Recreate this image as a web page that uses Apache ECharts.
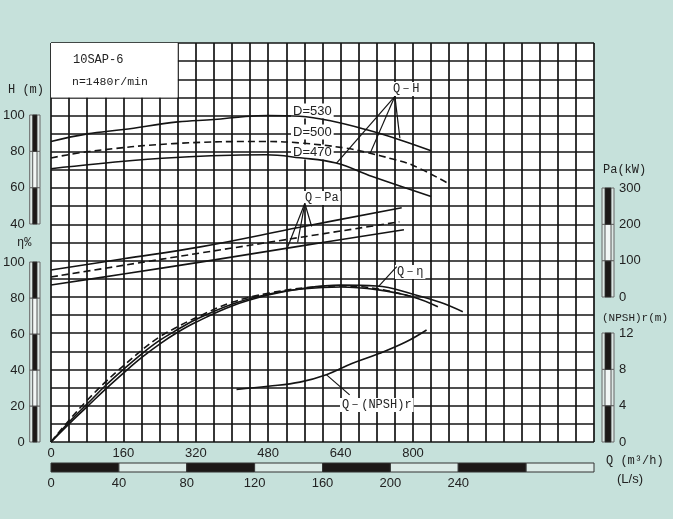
<!DOCTYPE html>
<html>
<head>
<meta charset="utf-8">
<script src="https://cdn.jsdelivr.net/npm/echarts@6/dist/echarts.min.js"></script>
<style>
  html, body { margin: 0; padding: 0; background: #c6e1db; }
  #chart { width: 673px; height: 519px; }
</style>
</head>
<body>
<div id="chart"></div>
<script>
  // Q-H, m3/h against m
  const hQ530 = [0, 80, 160, 280, 360, 430, 480, 550, 620, 700, 770, 840]
  const h530 = [85.7, 89.9, 92.3, 96.5, 97.8, 99.5, 100, 99.6, 97, 92, 86.7, 80.6]
  const hQ500 = [0, 85, 270, 475, 550, 650, 700, 755, 800, 875]
  const h500 = [76.6, 80.2, 84.5, 85.7, 84.9, 82.1, 79.5, 76, 72.5, 63]
  const hQ470 = [0, 180, 305, 475, 550, 630, 710, 840]
  const h470 = [70.7, 75.2, 77.3, 78.4, 76.7, 73.8, 66.4, 55.4]

  // Q-Pa, kW
  const pQ530 = [0, 160, 330, 550, 775]
  const pa530 = [74, 105, 138, 192, 246]
  const pQ500 = [0, 160, 330, 550, 770]
  const pa500 = [55, 87, 121, 164, 207]
  const pQ470 = [0, 160, 330, 550, 780]
  const pa470 = [33, 63, 96, 140, 185]

  // Q-eta, %
  const eQ530 = [0, 40, 80, 120, 160, 200, 240, 280, 320, 400, 480, 560, 640, 720, 800, 860, 910]
  const eta530 = [0, 10, 19.5, 29, 38, 46.5, 54, 60.5, 66, 75, 81, 84.8, 86.5, 86, 81.5, 77, 71.8]
  const eQ500 = [0, 40, 80, 120, 160, 200, 240, 280, 320, 400, 480, 560, 640, 720, 800]
  const eta500 = [0, 12, 23, 33, 42, 50.5, 58, 63.5, 68.5, 77, 82, 85, 86, 84.5, 80]
  const eQ470 = [0, 40, 80, 120, 160, 200, 240, 280, 320, 400, 480, 560, 640, 720, 800, 855]
  const eta470 = [0, 11, 21, 31, 40, 48.5, 56, 62, 67.5, 76, 81.5, 84.5, 85.5, 84, 80, 74.6]

  // Q-(NPSH)r, m
  const nQ = [410, 480, 550, 610, 665, 725, 785, 830]
  const npsh = [5.8, 6.15, 6.6, 7.45, 8.65, 9.75, 11.05, 12.35]

  // leader lines [Q, value]
  const hLeaders = [[[760, 110.6], [631, 73.8]], [[760, 110.6], [705, 79]], [[760, 110.6], [771, 87.5]]]
  const paLeaders = [[[561, 258], [520, 128]], [[561, 258], [545, 150]], [[561, 258], [576, 194]]]
  const etaLeader = [[764, 96.7], [723, 85.5]]
  const npshLeader = [[609, 7.4], [660, 5.2]]

  // scale bar ticks
  const hTicks = [40, 60, 80, 100]
  const etaTicks = [0, 20, 40, 60, 80, 100]
  const paTicks = [0, 100, 200, 300]
  const npshTicks = [0, 4, 8, 12]
  const lsTicks = [0, 40, 80, 120, 160, 200, 240, 280, 320]

  const pts = (qs, vs) => qs.map((q, i) => [q, vs[i]])
  const segs = ticks => ticks.slice(0, -1).map((t, i) => [t, ticks[i + 1], i % 2 === 0 ? 1 : 0])
  const ink = '#141414'
  const txt = '#222'

  function vBar (params, api) {
    const lo = api.coord([0, api.value(0)])
    const hi = api.coord([1, api.value(1)])
    const x = lo[0], y = hi[1], w = hi[0] - lo[0], h = lo[1] - hi[1]
    return {
      type: 'group',
      children: [
        {type: 'rect', shape: {x: x, y: y, width: w, height: h}, style: {fill: '#dde8e5', stroke: '#666', lineWidth: 1}},
        {type: 'rect', shape: {x: x + 3, y: y, width: w - 6, height: h},
          style: {fill: api.value(2) === 1 ? '#1c1817' : '#f2f6f5', stroke: '#333', lineWidth: 0.8}}
      ]
    }
  }

  function hBar (params, api) {
    const lo = api.coord([api.value(0), 0])
    const hi = api.coord([api.value(1), 1])
    return {
      type: 'rect',
      shape: {x: lo[0], y: hi[1], width: hi[0] - lo[0], height: lo[1] - hi[1]},
      style: {fill: api.value(2) === 1 ? '#1c1817' : '#dcebe7', stroke: '#333', lineWidth: 1}
    }
  }

  function curve (data, yIdx, dashed) {
    return {
      type: 'line', xAxisIndex: 0, yAxisIndex: yIdx, data: data, smooth: 0.4,
      symbol: 'none', silent: true, z: 3,
      lineStyle: {color: ink, width: 1.6, type: dashed ? [7, 4] : 'solid'}
    }
  }

  function leader (data, yIdx) {
    return {
      type: 'line', xAxisIndex: 0, yAxisIndex: yIdx, data: data, symbol: 'none',
      silent: true, z: 3, lineStyle: {color: ink, width: 1.2}
    }
  }

  const hiddenY = (grid, min, max) => ({type: 'value', gridIndex: grid, min: min, max: max, show: false})
  const barX = grid => ({type: 'value', gridIndex: grid, min: 0, max: 1, show: false})
  const scaleY = (grid, ticks, pos) => ({
    type: 'value', gridIndex: grid, position: pos, min: ticks[0], max: ticks[ticks.length - 1],
    interval: ticks[1] - ticks[0],
    axisLine: {show: false}, axisTick: {show: false}, splitLine: {show: false},
    axisLabel: {color: txt, fontSize: 13, margin: 5, fontFamily: 'Liberation Sans'}
  })

  const annFont = '12px "Liberation Mono", monospace'
  const sansFont = '13px "Liberation Sans", sans-serif'
  // bg labels sit under the curves (z 1) but over the grid lines
  const label = (x, y, text, bg, font) => ({
    type: 'text', x: x, y: y, z: bg ? 1 : 10,
    style: {text: text, font: font || annFont, fill: txt, verticalAlign: 'middle',
      backgroundColor: bg ? '#fff' : null, padding: bg ? [1, 2] : 0}
  })

  const chart = echarts.init(document.getElementById('chart'))
  chart.setOption({
    backgroundColor: '#c6e1db',
    animation: false,
    textStyle: {fontFamily: 'Liberation Sans'},
    grid: [
      {left: 51, top: 43, width: 543, height: 399, show: true, backgroundColor: '#fff', borderWidth: 0},
      {left: 28, top: 115, width: 12, height: 109},
      {left: 28, top: 262, width: 12, height: 180},
      {left: 602, top: 188, width: 12, height: 109},
      {left: 602, top: 333, width: 12, height: 109},
      {left: 51, top: 463, width: 543, height: 9}
    ],
    xAxis: [
      {
        type: 'value', gridIndex: 0, min: 0, max: 1200, interval: 40,
        axisLine: {show: false}, axisTick: {show: false},
        splitLine: {show: true, lineStyle: {color: ink, width: 1.7}},
        axisLabel: {color: txt, fontSize: 13, margin: 5,
          formatter: v => (v % 160 === 0 && v <= 800) ? String(v) : ''}
      },
      barX(1), barX(2), barX(3), barX(4),
      {
        type: 'value', gridIndex: 5, min: 0, max: 320, interval: 40,
        axisLine: {show: false}, axisTick: {show: false}, splitLine: {show: false},
        axisLabel: {color: txt, fontSize: 13, margin: 5, formatter: v => v <= 240 ? String(v) : ''}
      }
    ],
    yAxis: [
      {
        type: 'value', gridIndex: 0, min: 0, max: 220, interval: 10,
        axisLine: {show: false}, axisTick: {show: false}, axisLabel: {show: false},
        splitLine: {show: true, lineStyle: {color: ink, width: 1.7}}
      },
      hiddenY(0, -80, 140),
      hiddenY(0, -400, 700),
      hiddenY(0, 0, 44),
      scaleY(1, hTicks, 'left'),
      scaleY(2, etaTicks, 'left'),
      scaleY(3, paTicks, 'right'),
      scaleY(4, npshTicks, 'right'),
      hiddenY(5, 0, 1)
    ],
    series: [
      Object.assign(curve(pts(eQ530, eta530), 0, false), {
        markArea: {
          silent: true,
          itemStyle: {color: '#fff', borderWidth: 0},
          data: [[{xAxis: 0, yAxis: 190}, {xAxis: 280, yAxis: 220}]]
        }
      }),
      curve(pts(eQ500, eta500), 0, true),
      curve(pts(eQ470, eta470), 0, false),
      curve(pts(hQ530, h530), 1, false),
      curve(pts(hQ500, h500), 1, true),
      curve(pts(hQ470, h470), 1, false),
      curve(pts(pQ530, pa530), 2, false),
      curve(pts(pQ500, pa500), 2, true),
      curve(pts(pQ470, pa470), 2, false),
      curve(pts(nQ, npsh), 3, false),
      ...hLeaders.map(d => leader(d, 1)),
      ...paLeaders.map(d => leader(d, 2)),
      leader(etaLeader, 0),
      leader(npshLeader, 3),
      {type: 'custom', xAxisIndex: 1, yAxisIndex: 4, renderItem: vBar, data: segs(hTicks), silent: true},
      {type: 'custom', xAxisIndex: 2, yAxisIndex: 5, renderItem: vBar, data: segs(etaTicks), silent: true},
      {type: 'custom', xAxisIndex: 3, yAxisIndex: 6, renderItem: vBar, data: segs(paTicks), silent: true},
      {type: 'custom', xAxisIndex: 4, yAxisIndex: 7, renderItem: vBar, data: segs(npshTicks), silent: true},
      {type: 'custom', xAxisIndex: 5, yAxisIndex: 8, renderItem: hBar, data: segs(lsTicks), silent: true}
    ],
    graphic: [
      label(73, 60, '10SAP-6', false, '12px "Liberation Mono", monospace'),
      label(72, 82, 'n=1480r/min', false, '11.5px "Liberation Mono", monospace'),
      label(8, 90, 'H (m)'),
      label(17, 243, 'η%'),
      label(603, 170, 'Pa(kW)'),
      label(602, 318, '(NPSH)r(m)', false, '11px "Liberation Mono", monospace'),
      label(606, 461, 'Q (m³/h)'),
      label(617, 479, '(L/s)', false, sansFont),
      label(291, 111, 'D=530', true, sansFont),
      label(291, 132, 'D=500', true, sansFont),
      label(291, 152, 'D=470', true, sansFont),
      label(391, 89, 'Q－H', true),
      label(303, 198, 'Q－Pa', true),
      label(395, 272, 'Q－η', true),
      label(340, 405, 'Q－(NPSH)r', true)
    ]
  })
</script>
</body>
</html>
